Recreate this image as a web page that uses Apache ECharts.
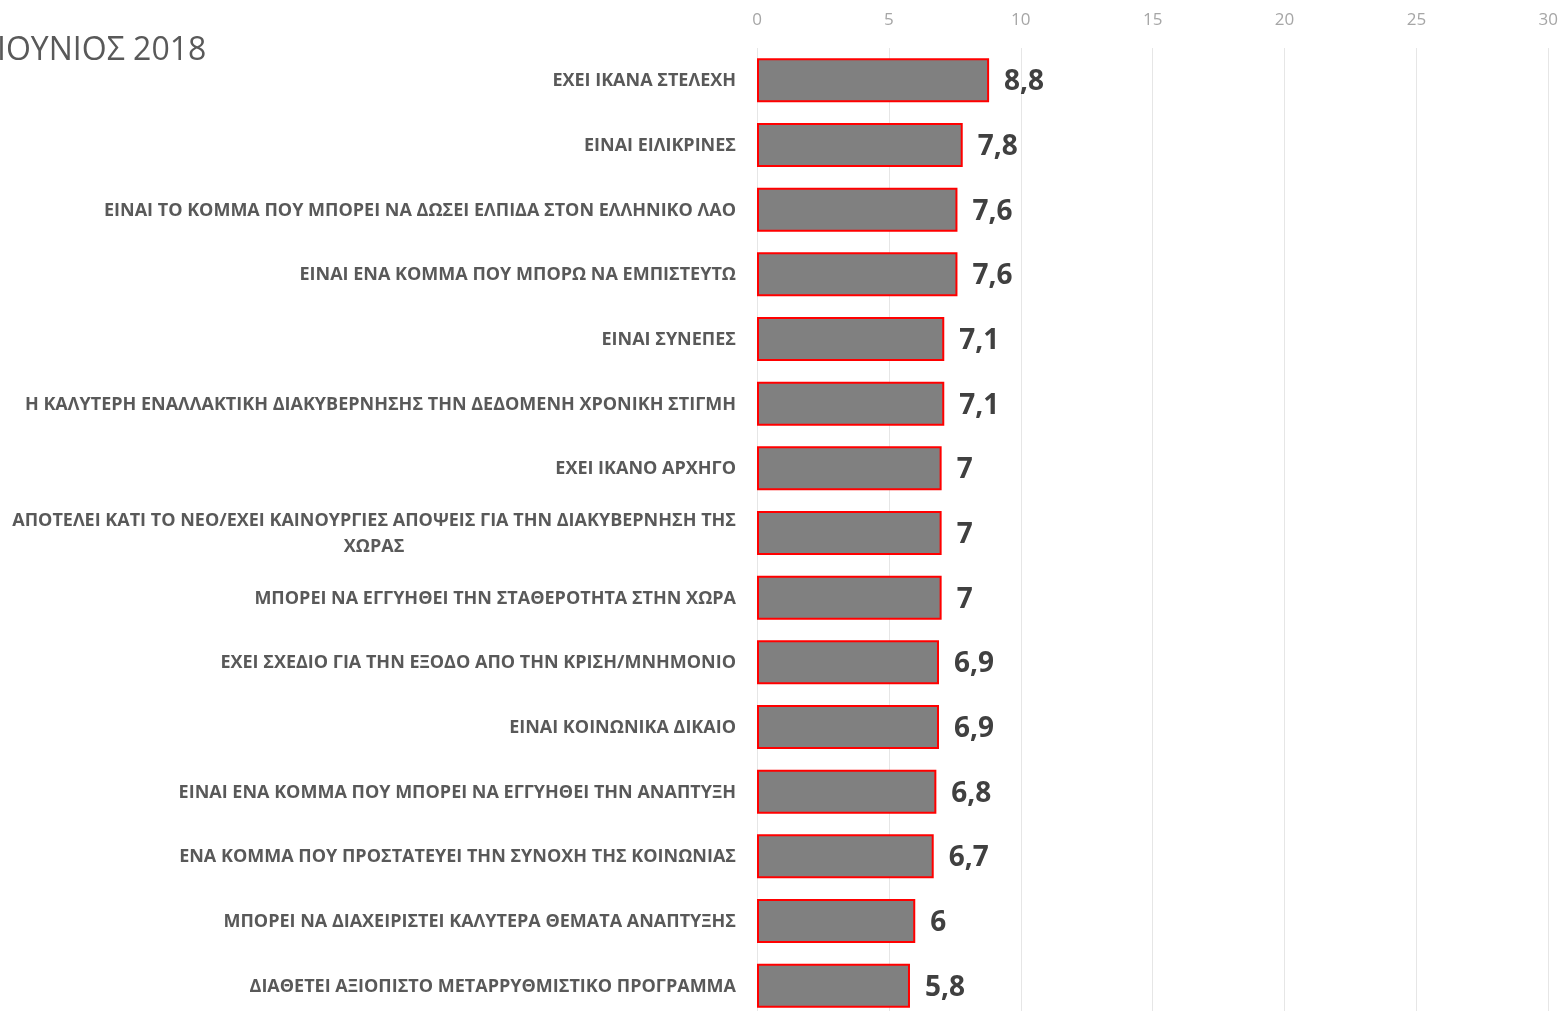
<!DOCTYPE html>
<html>
<head>
<meta charset="utf-8">
<script src="https://cdn.jsdelivr.net/npm/echarts@6/dist/echarts.min.js"></script>
<style>
html,body{margin:0;padding:0;background:#fff;overflow:hidden;}
#chart{width:1561px;height:1020px;}
</style>
</head>
<body>
<div id="chart"></div>
<script>
const titleText = 'ΙΟΥΝΙΟΣ 2018';
const categories = [
  'ΕΧΕΙ ΙΚΑΝΑ ΣΤΕΛΕΧΗ',
  'ΕΙΝΑΙ ΕΙΛΙΚΡΙΝΕΣ',
  'ΕΙΝΑΙ ΤΟ ΚΟΜΜΑ ΠΟΥ ΜΠΟΡΕΙ ΝΑ ΔΩΣΕΙ ΕΛΠΙΔΑ ΣΤΟΝ ΕΛΛΗΝΙΚΟ ΛΑΟ',
  'ΕΙΝΑΙ ΕΝΑ ΚΟΜΜΑ ΠΟΥ ΜΠΟΡΩ ΝΑ ΕΜΠΙΣΤΕΥΤΩ',
  'ΕΙΝΑΙ ΣΥΝΕΠΕΣ',
  'Η ΚΑΛΥΤΕΡΗ ΕΝΑΛΛΑΚΤΙΚΗ ΔΙΑΚΥΒΕΡΝΗΣΗΣ ΤΗΝ ΔΕΔΟΜΕΝΗ ΧΡΟΝΙΚΗ ΣΤΙΓΜΗ',
  'ΕΧΕΙ ΙΚΑΝΟ ΑΡΧΗΓΟ',
  'ΑΠΟΤΕΛΕΙ ΚΑΤΙ ΤΟ ΝΕΟ/ΕΧΕΙ ΚΑΙΝΟΥΡΓΙΕΣ ΑΠΟΨΕΙΣ ΓΙΑ ΤΗΝ ΔΙΑΚΥΒΕΡΝΗΣΗ ΤΗΣ\nΧΩΡΑΣ',
  'ΜΠΟΡΕΙ ΝΑ ΕΓΓΥΗΘΕΙ ΤΗΝ ΣΤΑΘΕΡΟΤΗΤΑ ΣΤΗΝ ΧΩΡΑ',
  'ΕΧΕΙ ΣΧΕΔΙΟ ΓΙΑ ΤΗΝ ΕΞΟΔΟ ΑΠΟ ΤΗΝ ΚΡΙΣΗ/ΜΝΗΜΟΝΙΟ',
  'ΕΙΝΑΙ ΚΟΙΝΩΝΙΚΑ ΔΙΚΑΙΟ',
  'ΕΙΝΑΙ ΕΝΑ ΚΟΜΜΑ ΠΟΥ ΜΠΟΡΕΙ ΝΑ ΕΓΓΥΗΘΕΙ ΤΗΝ ΑΝΑΠΤΥΞΗ',
  'ΕΝΑ ΚΟΜΜΑ ΠΟΥ ΠΡΟΣΤΑΤΕΥΕΙ ΤΗΝ ΣΥΝΟΧΗ ΤΗΣ ΚΟΙΝΩΝΙΑΣ',
  'ΜΠΟΡΕΙ ΝΑ ΔΙΑΧΕΙΡΙΣΤΕΙ ΚΑΛΥΤΕΡΑ ΘΕΜΑΤΑ ΑΝΑΠΤΥΞΗΣ',
  'ΔΙΑΘΕΤΕΙ ΑΞΙΟΠΙΣΤΟ ΜΕΤΑΡΡΥΘΜΙΣΤΙΚΟ ΠΡΟΓΡΑΜΜΑ'
];
const values = [8.8, 7.8, 7.6, 7.6, 7.1, 7.1, 7, 7, 7, 6.9, 6.9, 6.8, 6.7, 6, 5.8];
const xTicks = [0, 5, 10, 15, 20, 25, 30];

const chart = echarts.init(document.getElementById('chart'));
chart.setOption({
  animation: false,
  backgroundColor: '#ffffff',
  title: {
    text: titleText,
    left: -8,
    top: 30,
    textStyle: {fontFamily: 'Open Sans', fontWeight: 'normal', fontSize: 32, color: '#595959'}
  },
  grid: {left: 757, top: 48, width: 792, height: 970, containLabel: false},
  xAxis: {
    type: 'value',
    position: 'top',
    min: xTicks[0],
    max: xTicks[xTicks.length - 1],
    interval: 5,
    axisLine: {show: false},
    axisTick: {show: false},
    axisLabel: {
      color: '#a6a6a6', fontFamily: 'Open Sans', fontSize: 17, margin: 19
    },
    splitLine: {show: true, lineStyle: {color: '#e6e6e6', width: 1}}
  },
  yAxis: {
    type: 'category',
    inverse: true,
    data: categories,
    axisLine: {show: false},
    axisTick: {show: false},
    axisLabel: {
      margin: 21,
      formatter: function (v) {
        const parts = v.split('\n');
        if (parts.length === 1) return '{a|' + v + '}';
        return '{a|' + parts[0] + '}\n{c|' + parts[1] + '}';
      },
      rich: {
        a: {fontFamily: 'Open Sans', fontWeight: 'bold', fontSize: 18, color: '#595959', lineHeight: 27, padding: [2, 0, 0, 0]},
        c: {fontFamily: 'Open Sans', fontWeight: 'bold', fontSize: 18, color: '#595959', lineHeight: 27, align: 'center'}
      }
    }
  },
  series: [{
    type: 'bar',
    data: values,
    barWidth: '68%',
    itemStyle: {color: '#808080', borderColor: '#ff0000', borderWidth: 2},
    label: {
      show: true,
      position: 'right',
      distance: 15,
      offset: [0, 2],
      fontFamily: 'Open Sans',
      fontWeight: 'bold',
      fontSize: 28,
      color: '#404040',
      formatter: function (p) { return String(p.value).replace('.', ','); }
    }
  }]
});
</script>
</body>
</html>
